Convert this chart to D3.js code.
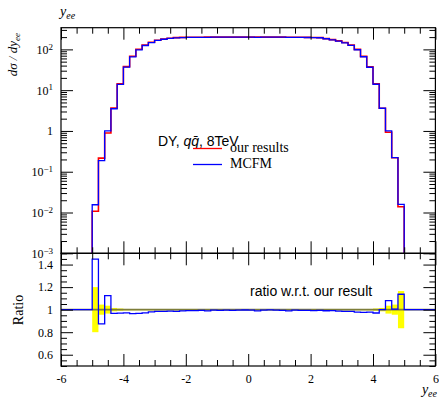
<!DOCTYPE html>
<html>
<head>
<meta charset="utf-8">
<script src="https://cdn.jsdelivr.net/npm/d3@7"></script>
<style>
  body { margin: 0; background: #fff; }
  svg { display: block; }
  .tick text { font-family: "Liberation Serif", serif; font-size: 12px; fill: #000; }
  .tick line { stroke: #000; stroke-width: 1; }
</style>
</head>
<body>
<svg id="chart" width="439" height="399"></svg>
<script>
// bin edges in y_ee (50 bins of 0.2)
const binEdges = [-5.0, -4.8, -4.6, -4.4, -4.2, -4.0, -3.8, -3.6, -3.4, -3.2, -3.0,
  -2.8, -2.6, -2.4, -2.2, -2.0, -1.8, -1.6, -1.4, -1.2, -1.0,
  -0.8, -0.6, -0.4, -0.2, 0.0, 0.2, 0.4, 0.6, 0.8, 1.0,
  1.2, 1.4, 1.6, 1.8, 2.0, 2.2, 2.4, 2.6, 2.8, 3.0,
  3.2, 3.4, 3.6, 3.8, 4.0, 4.2, 4.4, 4.6, 4.8, 5.0];

// dsigma/dy, our results (red)
const ourResults = [0.0107, 0.215, 0.89, 3.62, 14.3, 37.8, 68, 101, 128, 150,
  168, 180, 188, 194, 197, 198, 199, 199, 200, 200,
  200, 200, 200, 200, 200, 200, 200, 200, 200, 200,
  200, 199, 199, 198, 197, 196, 194, 184, 173, 162,
  147, 127, 100, 67.5, 37.3, 14.4, 3.6, 0.93, 0.22, 0.0139];

// dsigma/dy, MCFM (blue)
const mcfm = [0.0155, 0.188, 1.00, 3.50, 13.85, 36.7, 65.6, 97.6, 124.4, 147,
  165.5, 177.3, 185.7, 191.1, 195, 196.4, 197.2, 197.6, 198, 199,
  198.6, 199.2, 198.6, 199, 199.4, 199.2, 198, 199, 199.6, 199,
  198.8, 197, 198, 196.6, 195.8, 194.2, 192.8, 182.2, 171.6, 160,
  144.8, 125.1, 97.8, 65.9, 36.5, 13.97, 3.6, 1.005, 0.221, 0.0158];

// relative uncertainty of our results (yellow band)
const ourRelErr = [0.2, 0.045, 0.035, 0.015, 0.01, 0.006, 0.005, 0.004, 0.004, 0.003,
  0.003, 0.003, 0.003, 0.003, 0.003, 0.003, 0.003, 0.003, 0.003, 0.003,
  0.003, 0.003, 0.003, 0.003, 0.003, 0.003, 0.003, 0.003, 0.003, 0.003,
  0.003, 0.003, 0.003, 0.003, 0.003, 0.003, 0.003, 0.003, 0.003, 0.003,
  0.003, 0.004, 0.004, 0.005, 0.006, 0.01, 0.015, 0.035, 0.045, 0.165];

const xMajorTicks = [-6, -4, -2, 0, 2, 4, 6];
const logMajorTicks = [1e-3, 1e-2, 1e-1, 1, 10, 100];
const logTickLabels = [["10", "\u22123"], ["10", "\u22122"], ["10", "\u22121"], ["1", ""], ["10", "1"], ["10", "2"]];
const ratioMajorTicks = [0.6, 0.8, 1, 1.2, 1.4];
const ratioTickLabels = ["0.6", "0.8", "1", "1.2", "1.4"];

const svg = d3.select("#chart");
const pLeft = 61, pRight = 435.4, pTop = 27.7, pMid = 253.3, pBottom = 366;

const x = d3.scaleLinear().domain([-6, 6]).range([pLeft, pRight]);
const y = d3.scaleLog().domain([1e-3, 340]).range([pMid, pTop]);
const r = d3.scaleLinear().domain([0.5, 1.5]).range([pBottom, pMid]);

const bins = ourResults.map((v, i) => ({
  x0: binEdges[i], x1: binEdges[i + 1],
  ours: v, mc: mcfm[i], ratio: mcfm[i] / v, err: ourRelErr[i]
}));

// clip paths
const defs = svg.append("defs");
defs.append("clipPath").attr("id", "clipTop").append("rect")
  .attr("x", pLeft).attr("y", pTop).attr("width", pRight - pLeft).attr("height", pMid - pTop);
defs.append("clipPath").attr("id", "clipBot").append("rect")
  .attr("x", pLeft).attr("y", pMid).attr("width", pRight - pLeft).attr("height", pBottom - pMid);

// ---- upper panel histograms
const histPoints = key => {
  const pts = [[binEdges[0], y.domain()[0]]];
  bins.forEach(b => pts.push([b.x0, b[key]]));
  pts.push([binEdges[binEdges.length - 1], bins[bins.length - 1][key]]);
  pts.push([binEdges[binEdges.length - 1], y.domain()[0]]);
  return pts;
};
const histLine = d3.line().curve(d3.curveStepAfter).x(d => x(d[0])).y(d => y(d[1]));

const gTop = svg.append("g").attr("clip-path", "url(#clipTop)");
gTop.append("path").datum(histPoints("ours"))
  .attr("d", histLine).attr("fill", "none").attr("stroke", "#ff0000").attr("stroke-width", 1.6);
gTop.append("path").datum(histPoints("mc"))
  .attr("d", histLine).attr("fill", "none").attr("stroke", "#0000ff").attr("stroke-width", 1.3);

// ---- ratio panel
const gBot = svg.append("g").attr("clip-path", "url(#clipBot)");
gBot.selectAll("rect.band").data(bins).join("rect")
  .attr("class", "band")
  .attr("x", d => x(d.x0)).attr("width", d => x(d.x1) - x(d.x0))
  .attr("y", d => r(1 + d.err)).attr("height", d => Math.max(1, r(1 - d.err) - r(1 + d.err)))
  .attr("fill", "#ffff00");

gBot.append("line")
  .attr("x1", pLeft).attr("x2", pRight).attr("y1", r(1)).attr("y2", r(1))
  .attr("stroke", "#7d7d3a").attr("stroke-width", 1.8);

const ratioPts = [[x.domain()[0], 1]];
bins.forEach(b => ratioPts.push([b.x0, b.ratio]));
ratioPts.push([binEdges[binEdges.length - 1], 1]);
ratioPts.push([x.domain()[1], 1]);
gBot.append("path").datum(ratioPts)
  .attr("d", d3.line().curve(d3.curveStepAfter).x(d => x(d[0])).y(d => r(d[1])))
  .attr("fill", "none").attr("stroke", "#0000ff").attr("stroke-width", 1.3);

// ---- axes
const xMinor = d3.range(-6, 6.001, 0.5).filter(v => !xMajorTicks.includes(v));
const logMinor = y.ticks().filter(v => !logMajorTicks.some(m => Math.abs(m - v) / m < 1e-6));
const ratioMinor = d3.range(0.5, 1.5001, 0.05).map(v => +v.toFixed(2)).filter(v => !ratioMajorTicks.includes(v));

// draws minor + major inward ticks, returns the major tick group
function ticks(axis, tx, ty, major, minor, fmt, pad) {
  const g = svg.append("g").attr("transform", `translate(${tx},${ty})`);
  g.append("g").call(axis.tickValues(minor).tickSize(-6).tickSizeOuter(0).tickFormat(""));
  const gm = g.append("g").call(axis.tickValues(major).tickSize(-12).tickSizeOuter(0).tickPadding(pad || 3).tickFormat(fmt || ""));
  g.selectAll(".domain").remove();
  return gm;
}

// upper panel
ticks(d3.axisTop(x), 0, pTop, xMajorTicks, xMinor);
ticks(d3.axisBottom(x), 0, pMid, xMajorTicks, xMinor);
const yAxisG = ticks(d3.axisLeft(y), pLeft, 0, logMajorTicks, logMinor, d => "x", 8);
ticks(d3.axisRight(y), pRight, 0, logMajorTicks, logMinor);
yAxisG.selectAll(".tick text").each(function(d) {
  const t = d3.select(this);
  const lab = logTickLabels[logMajorTicks.findIndex(m => Math.abs(m - d) / m < 1e-6)];
  t.text(null);
  t.append("tspan").text(lab[0]);
  if (lab[1]) t.append("tspan").attr("dy", "-0.45em").attr("font-size", "9px").text(lab[1]);
});

// ratio panel
ticks(d3.axisTop(x), 0, pMid, xMajorTicks, xMinor);
ticks(d3.axisBottom(x), 0, pBottom, xMajorTicks, xMinor, d => String(d), 8);
ticks(d3.axisLeft(r), pLeft, 0, ratioMajorTicks, ratioMinor, d => ratioTickLabels[ratioMajorTicks.indexOf(d)], 8);
ticks(d3.axisRight(r), pRight, 0, ratioMajorTicks, ratioMinor);

// frames
[[pTop, pMid], [pMid, pBottom]].forEach(([a, b]) => {
  svg.append("rect").attr("x", pLeft).attr("y", a).attr("width", pRight - pLeft).attr("height", b - a)
    .attr("fill", "none").attr("stroke", "#000").attr("stroke-width", 1.2);
});

// ---- labels
const serif = "'Liberation Serif', serif";
const sans = "'Liberation Sans', Arial, sans-serif";

const t1 = svg.append("text").attr("x", 60).attr("y", 16)
  .attr("font-family", serif).attr("font-style", "italic").attr("font-size", 14).text("y");
t1.append("tspan").attr("font-size", 10).attr("dy", 3).text("ee");

const yl = svg.append("text").attr("transform", "translate(17,33) rotate(-90)")
  .attr("text-anchor", "end").attr("font-family", serif).attr("font-style", "italic").attr("font-size", 13)
  .text("d\u03c3 / dy");
yl.append("tspan").attr("font-size", 9).attr("dy", 3).text("ee");

svg.append("text").attr("transform", "translate(23,310) rotate(-90)")
  .attr("text-anchor", "middle").attr("font-family", serif).attr("font-size", 14).text("Ratio");

const xl = svg.append("text").attr("x", 437).attr("y", 394).attr("text-anchor", "end")
  .attr("font-family", serif).attr("font-style", "italic").attr("font-size", 14).text("y");
xl.append("tspan").attr("font-size", 10).attr("dy", 3).text("ee");

// legend
const lg = svg.append("text").attr("x", 158).attr("y", 146).attr("font-family", sans).attr("font-size", 14);
lg.append("tspan").text("DY, ");
lg.append("tspan").attr("font-style", "italic").text("q\u0071\u0304");
lg.append("tspan").text(", 8TeV");

const legendItems = [["our results", "#ff0000", 148.5, 152], ["MCFM", "#0000ff", 164.5, 168]];
legendItems.forEach(([name, color, ly, ty]) => {
  svg.append("line").attr("x1", 193).attr("x2", 222).attr("y1", ly).attr("y2", ly)
    .attr("stroke", color).attr("stroke-width", 1.3);
  svg.append("text").attr("x", 230).attr("y", ty).attr("font-family", serif).attr("font-size", 14).text(name);
});

svg.append("text").attr("x", 250).attr("y", 296).attr("font-family", sans).attr("font-size", 14)
  .text("ratio w.r.t. our result");
</script>
</body>
</html>
